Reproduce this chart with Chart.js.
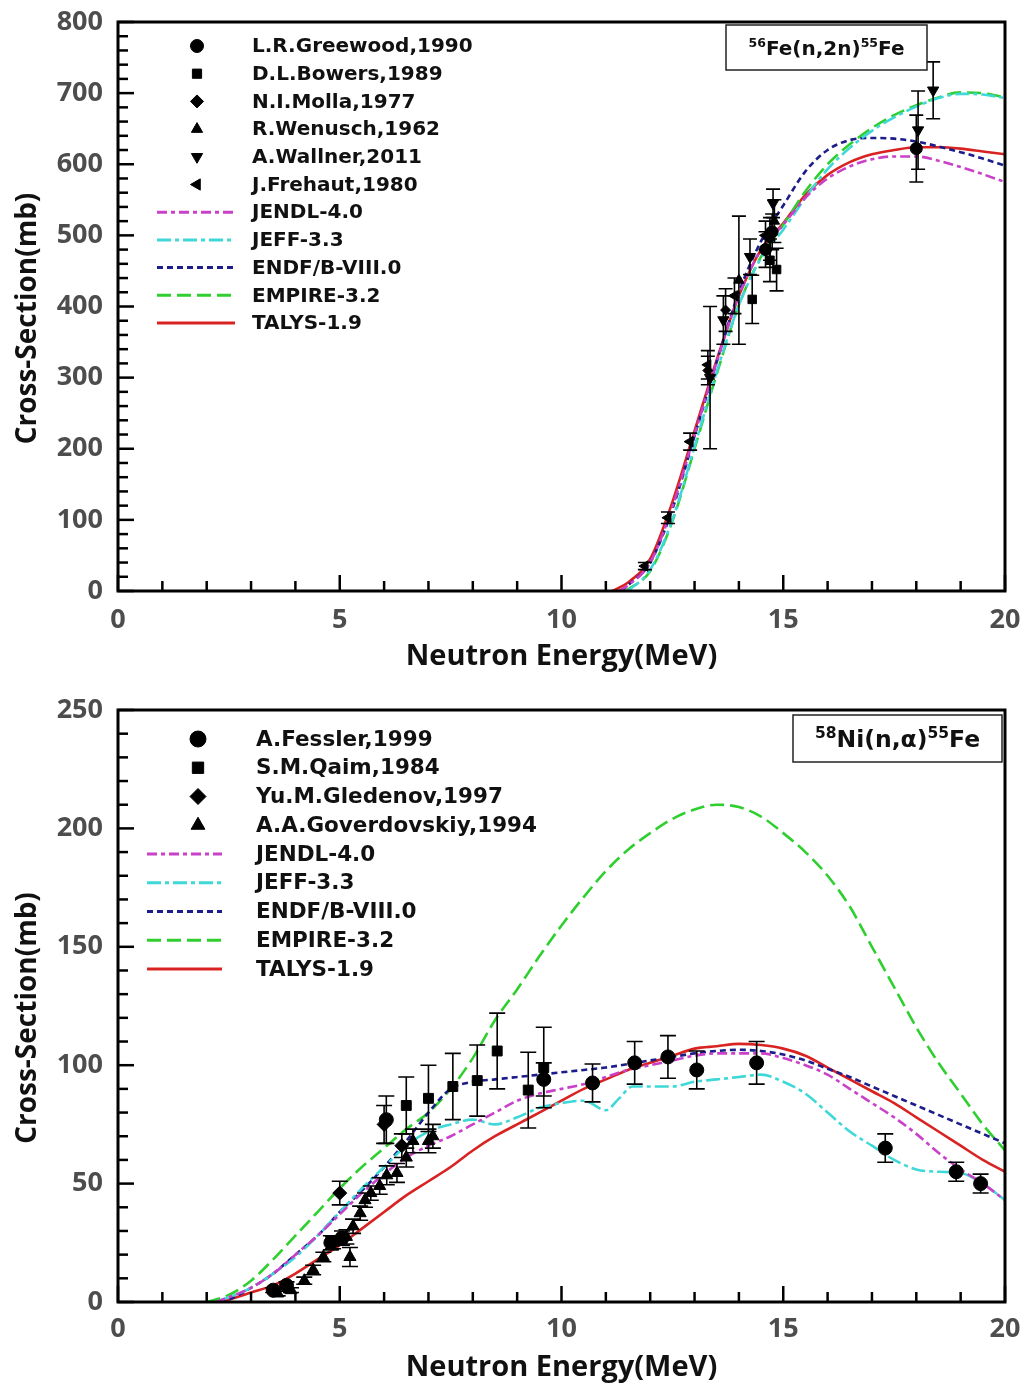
<!DOCTYPE html>
<html>
<head>
<meta charset="utf-8">
<script src="https://cdn.jsdelivr.net/npm/chart.js@4/dist/chart.umd.min.js"></script>
<style>
  body { margin: 0; background: #fff; }
  #wrap { position: relative; width: 1030px; height: 1387px; }
  canvas { position: absolute; left: 0; }
</style>
</head>
<body>
<div id="wrap">
  <canvas id="feChart" width="1030" height="680" style="top:0"></canvas>
  <canvas id="niChart" width="1030" height="707" style="top:680px"></canvas>
</div>
<script>
// ---------- 56Fe(n,2n)55Fe ----------
// experimental points: [energy MeV, cross-section mb, error mb]
const feGreenwood = [[14.6, 480, 25], [14.75, 505, 25], [18.0, 622, 47]];
const feBowers = [[14.3, 410, 34], [14.7, 465, 30], [14.85, 452, 30]];
const feMolla = [[13.3, 310, 20], [13.7, 395, 30], [14.7, 495, 30]];
const feWenusch = [[14.0, 437, 90], [14.8, 520, 30]];
const feWallner = [[13.35, 300, 100], [13.65, 381, 34], [14.25, 470, 25], [14.77, 545, 20], [18.04, 648, 55], [18.38, 704, 40]];
const feFrehaut = [[11.88, 35, 5], [12.4, 103, 8], [12.9, 210, 12], [13.3, 318, 20], [13.9, 415, 25], [14.6, 500, 20]];

// evaluated curves
const feTalysE = [11.15, 11.5, 12, 12.5, 13, 13.5, 14, 14.5, 15, 15.5, 16, 16.5, 17, 17.5, 18, 18.5, 19, 19.5, 20];
const feTalys = [0, 12, 45, 125, 225, 325, 415, 480, 517, 557, 585, 603, 614, 620, 624, 624, 622, 618, 614];
const feJendlE = [11.3, 11.5, 12, 12.5, 13, 13.5, 14, 14.5, 15, 15.5, 16, 16.5, 17, 17.5, 18, 18.5, 19, 19.5, 20];
const feJendl = [0, 8, 40, 118, 220, 322, 415, 480, 515, 553, 580, 597, 607, 611, 611, 605, 596, 586, 575];
const feJeffE = [11.5, 12, 12.5, 13, 13.5, 14, 14.5, 15, 15.5, 16, 16.5, 17, 17.5, 18, 18.5, 19, 19.5, 20];
const feJeff = [0, 30, 100, 203, 308, 402, 468, 508, 553, 593, 623, 647, 666, 681, 693, 699, 698, 693];
const feEndfE = [11.35, 11.5, 12, 12.5, 13, 13.5, 14, 14.5, 15, 15.5, 16, 16.5, 17, 17.5, 18, 18.5, 19, 19.5, 20];
const feEndf = [0, 8, 40, 115, 218, 322, 420, 492, 542, 590, 620, 634, 637, 636, 632, 625, 617, 608, 598];
const feEmpireE = [11.45, 12, 12.5, 13, 13.5, 14, 14.5, 15, 15.5, 16, 16.5, 17, 17.5, 18, 18.5, 19, 19.5, 20];
const feEmpire = [0, 28, 98, 200, 305, 402, 470, 515, 562, 600, 628, 651, 669, 683, 694, 701, 700, 694];

// ---------- 58Ni(n,a)55Fe ----------
const niFessler = [[3.5, 5, 1], [3.8, 7, 1.5], [4.8, 25, 3], [5.05, 27, 3], [6.05, 77, 10], [9.6, 94, 7], [10.7, 92.5, 8], [11.65, 101, 9], [12.4, 103.5, 9], [13.05, 98, 8], [14.4, 101, 9], [17.3, 65, 6], [18.9, 55, 4], [19.45, 50, 4]];
const niQaim = [[6.5, 83, 12], [7.0, 86, 14], [7.55, 91, 14], [8.1, 93.5, 15], [8.55, 106, 16], [9.25, 89.5, 16], [9.6, 99, 17]];
const niGledenov = [[5.0, 46, 5], [6.0, 75, 8], [6.4, 66, 5]];
const niGoverdovskiy = [[3.6, 3.6, 1], [3.9, 5, 1], [4.2, 9, 1.5], [4.4, 13.5, 2], [4.63, 19, 2], [4.85, 25, 2.5], [5.15, 27.5, 3], [5.23, 19, 4], [5.3, 32, 3], [5.46, 37.5, 3], [5.57, 43, 3], [5.7, 46, 3], [5.9, 49, 3.5], [6.06, 53.5, 4], [6.29, 54.5, 4], [6.5, 61, 4], [6.65, 68, 5], [7.0, 68, 5], [7.1, 70, 5]];

const niJendlE = [2.2, 2.5, 3, 3.5, 4, 4.5, 5, 5.5, 6, 6.5, 7, 7.5, 8, 8.5, 9, 9.5, 10, 10.5, 11, 11.5, 12, 12.5, 13, 13.5, 14, 14.5, 15, 15.5, 16, 16.5, 17, 17.5, 18, 18.5, 19, 19.5, 20];
const niJendl = [0, 2, 6, 12, 20, 28, 37, 46, 54, 61, 66, 70, 75, 80, 85, 88, 90, 92, 95, 98, 100, 102, 104, 105, 105, 105, 103, 100, 96, 90, 84, 78, 71, 63, 56, 50, 43];
const niJeffE = [2.2, 2.5, 3, 3.5, 4, 4.5, 5, 5.5, 6, 6.5, 7, 7.5, 8, 8.5, 9, 9.5, 10, 10.5, 11, 11.3, 11.6, 12, 12.5, 13, 13.5, 14, 14.5, 15, 15.5, 16, 16.5, 17, 17.5, 18, 18.5, 19, 19.5, 20];
const niJeff = [0, 2, 6, 12, 19, 28, 38, 48, 57, 66, 72, 75, 77, 75, 78, 82, 84, 85, 81, 86, 91, 91, 91, 93, 94, 95, 96, 93, 88, 80, 72, 66, 60, 56, 55, 54.5, 50, 43];
const niEndfE = [2.3, 2.5, 3, 3.5, 4, 4.5, 5, 5.5, 6, 6.5, 7, 7.5, 8, 8.5, 9, 9.5, 10, 10.5, 11, 11.5, 12, 12.5, 13, 13.5, 14, 14.5, 15, 15.5, 16, 16.5, 17, 17.5, 18, 18.5, 19, 19.5, 20];
const niEndf = [0, 1, 6, 12, 20, 28, 38, 47, 57, 68, 80, 90, 93, 94, 95, 96, 97, 98, 99, 100.5, 102, 103.5, 105, 106, 106.5, 106, 104.5, 102, 98.5, 95, 91, 87, 83, 79, 75, 71, 67];
const niEmpireE = [2, 2.5, 3, 3.5, 4, 4.5, 5, 5.5, 6, 6.5, 7, 7.5, 8, 8.5, 9, 9.5, 10, 10.5, 11, 11.5, 12, 12.5, 13, 13.5, 14, 14.5, 15, 15.5, 16, 16.5, 17, 17.5, 18, 18.5, 19, 19.5, 20];
const niEmpire = [0, 3, 9, 18, 28, 38, 48, 57, 65, 73, 80, 90, 103, 119, 132, 146, 159, 171, 182, 191, 198, 204, 208, 210, 209, 205, 198, 190, 180, 167, 150, 133, 116, 101, 88, 75, 64];
const niTalysE = [2.3, 2.5, 3, 3.5, 4, 4.5, 5, 5.5, 6, 6.5, 7, 7.5, 8, 8.5, 9, 9.5, 10, 10.5, 11, 11.5, 12, 12.5, 13, 13.5, 14, 14.5, 15, 15.5, 16, 16.5, 17, 17.5, 18, 18.5, 19, 19.5, 20];
const niTalys = [0, 1, 4, 7, 12, 18, 24, 31, 38, 45, 51, 57, 64, 70, 75, 80, 85, 90, 94, 98, 101, 104, 107, 108, 109, 108.5, 107, 104, 99, 94, 89, 84, 78, 72, 66, 60, 55];

const FONT = "'Open Sans', 'DejaVu Sans', sans-serif";
const LFONT = "'DejaVu Sans', sans-serif";
const C_JENDL = '#c940c9', C_JEFF = '#3fd8d8', C_ENDF = '#1c1c8a', C_EMPIRE = '#2fcf2f', C_TALYS = '#d92222';

function curve(label, E, XS, color, dash) {
  return {
    label, data: E.map((e, i) => ({ x: e, y: XS[i] })),
    showLine: true, borderColor: color, borderWidth: 2.6, borderDash: dash,
    pointRadius: 0, cubicInterpolationMode: 'monotone', fill: false
  };
}

function expt(label, rows, style, rot, r) {
  return {
    label, data: rows.map(p => ({ x: p[0], y: p[1] })), errs: rows.map(p => p[2]),
    showLine: false, pointStyle: style, pointRotation: rot, pointRadius: r,
    pointBackgroundColor: '#000', pointBorderColor: '#000', pointBorderWidth: 1
  };
}

// error bars with caps
const errorBars = {
  id: 'errorBars',
  afterDatasetsDraw(chart, args, o) {
    const { ctx, scales: { x, y } } = chart;
    ctx.save();
    ctx.strokeStyle = '#000';
    ctx.lineWidth = 1.6;
    chart.data.datasets.forEach(ds => {
      if (!ds.errs) return;
      ds.data.forEach((p, j) => {
        const px = x.getPixelForValue(p.x);
        const lo = y.getPixelForValue(p.y - ds.errs[j]);
        const hi = y.getPixelForValue(p.y + ds.errs[j]);
        ctx.beginPath();
        ctx.moveTo(px, lo); ctx.lineTo(px, hi);
        ctx.moveTo(px - o.cap, lo); ctx.lineTo(px + o.cap, lo);
        ctx.moveTo(px - o.cap, hi); ctx.lineTo(px + o.cap, hi);
        ctx.stroke();
      });
    });
    ctx.restore();
  }
};

// box frame with inward major/minor ticks, plus the y title
const frameTicks = {
  id: 'frameTicks',
  afterDatasetsDraw(chart, args, o) {
    const { ctx, chartArea: a, scales: { x, y } } = chart;
    ctx.save();
    ctx.strokeStyle = '#000';
    ctx.setLineDash([]);
    ctx.lineWidth = 2.5;
    for (let v = x.min; v <= x.max + 1e-9; v += o.xMinor) {
      const px = x.getPixelForValue(v);
      const len = Math.abs(v % o.xMajor) < 1e-6 ? 16 : 10;
      ctx.beginPath(); ctx.moveTo(px, a.bottom); ctx.lineTo(px, a.bottom - len); ctx.stroke();
    }
    for (let v = y.min; v <= y.max + 1e-9; v += o.yMinor) {
      const py = y.getPixelForValue(v);
      const len = Math.abs(v % o.yMajor) < 1e-6 ? 16 : 10;
      ctx.beginPath(); ctx.moveTo(a.left, py); ctx.lineTo(a.left + len, py); ctx.stroke();
    }
    ctx.lineWidth = 3;
    ctx.strokeRect(a.left, a.top, a.right - a.left, a.bottom - a.top);

    // rotated y-axis title, a bit below the plot centre as in the original
    ctx.translate(28, (a.top + a.bottom) / 2 + o.yTitleShift);
    ctx.rotate(-Math.PI / 2);
    ctx.font = 'bold 28px ' + FONT;
    ctx.fillStyle = '#111';
    ctx.textAlign = 'center';
    ctx.textBaseline = 'middle';
    ctx.fillText('Cross-Section(mb)', 0, 0);
    ctx.restore();
  }
};

// legend drawn inside the plot
const insideLegend = {
  id: 'insideLegend',
  afterDraw(chart, args, o) {
    const ctx = chart.ctx;
    ctx.save();
    ctx.textBaseline = 'middle';
    ctx.font = 'bold ' + o.size + 'px ' + LFONT;
    chart.data.datasets.forEach((ds, i) => {
      const yy = o.y0 + i * o.dy;
      if (ds.showLine) {
        ctx.save();
        ctx.strokeStyle = ds.borderColor;
        ctx.lineWidth = 3;
        ctx.setLineDash(ds.borderDash || []);
        ctx.beginPath(); ctx.moveTo(o.lineX1, yy); ctx.lineTo(o.lineX2, yy); ctx.stroke();
        ctx.restore();
      } else {
        ctx.fillStyle = '#000';
        ctx.strokeStyle = '#000';
        ctx.lineWidth = 1;
        Chart.helpers.drawPoint(ctx, { pointStyle: ds.pointStyle, rotation: ds.pointRotation, radius: o.radius, borderWidth: 1 }, o.markX, yy);
      }
      ctx.fillStyle = '#111';
      ctx.fillText(ds.label, o.textX, yy + 1);
    });
    ctx.restore();
  }
};

// reaction label box with superscripts
const reactionBox = {
  id: 'reactionBox',
  afterDraw(chart, args, o) {
    const ctx = chart.ctx;
    ctx.save();
    ctx.fillStyle = '#fff';
    ctx.fillRect(o.x, o.y, o.w, o.h);
    ctx.strokeStyle = '#222';
    ctx.lineWidth = 1.5;
    ctx.strokeRect(o.x, o.y, o.w, o.h);
    ctx.textBaseline = 'alphabetic';
    const fontFor = p => 'bold ' + (p.sup ? o.supSize : o.size) + 'px ' + LFONT;
    let total = 0;
    o.parts.forEach(p => { ctx.font = fontFor(p); total += ctx.measureText(p.t).width; });
    let cx = o.x + o.w / 2 - total / 2;
    const base = o.y + o.h / 2 + o.size * 0.36;
    o.parts.forEach(p => {
      ctx.font = fontFor(p);
      ctx.fillStyle = '#111';
      ctx.fillText(p.t, cx, p.sup ? base - o.size * 0.38 : base);
      cx += ctx.measureText(p.t).width;
    });
    ctx.restore();
  }
};

function makeOptions(cfg) {
  return {
    responsive: false,
    animation: false,
    layout: { padding: { top: cfg.padTop, right: 25, left: 0, bottom: 0 } },
    scales: {
      x: {
        type: 'linear', min: 0, max: 20,
        grid: { display: false, drawTicks: false },
        border: { display: false },
        ticks: { stepSize: 5, padding: cfg.xTickPad, color: '#4d4d4d', font: { family: FONT, size: 27, weight: 'bold' } },
        title: { display: true, text: 'Neutron Energy(MeV)', color: '#111', padding: { top: 0, bottom: cfg.xTitlePad }, font: { family: FONT, size: 29, weight: 'bold' } },
        afterFit: s => { s.height = cfg.xHeight; s.paddingLeft = 0; s.paddingRight = 0; }
      },
      y: {
        type: 'linear', min: 0, max: cfg.yMax,
        grid: { display: false, drawTicks: false },
        border: { display: false },
        ticks: { stepSize: cfg.yMajor, padding: 15, color: '#4d4d4d', font: { family: FONT, size: 27, weight: 'bold' } },
        title: { display: false },
        afterFit: s => { s.width = 118; s.paddingTop = 0; s.paddingBottom = 0; }
      }
    },
    plugins: {
      legend: { display: false },
      tooltip: { enabled: false },
      errorBars: { cap: cfg.cap },
      frameTicks: { xMinor: 1, xMajor: 5, yMinor: cfg.yMinor, yMajor: cfg.yMajor, yTitleShift: 12 },
      insideLegend: cfg.legend,
      reactionBox: cfg.box
    }
  };
}

const plugins = [errorBars, frameTicks, insideLegend, reactionBox];

new Chart(document.getElementById('feChart'), {
  type: 'scatter',
  data: {
    datasets: [
      expt('L.R.Greewood,1990', feGreenwood, 'circle', 0, 6),
      expt('D.L.Bowers,1989', feBowers, 'rect', 0, 6),
      expt('N.I.Molla,1977', feMolla, 'rectRot', 0, 5),
      expt('R.Wenusch,1962', feWenusch, 'triangle', 0, 6),
      expt('A.Wallner,2011', feWallner, 'triangle', 180, 6.5),
      expt('J.Frehaut,1980', feFrehaut, 'triangle', 270, 6),
      curve('JENDL-4.0', feJendlE, feJendl, C_JENDL, [10, 4, 4, 4]),
      curve('JEFF-3.3', feJeffE, feJeff, C_JEFF, [14, 4, 4, 4]),
      curve('ENDF/B-VIII.0', feEndfE, feEndf, C_ENDF, [6, 4]),
      curve('EMPIRE-3.2', feEmpireE, feEmpire, C_EMPIRE, [14, 6]),
      curve('TALYS-1.9', feTalysE, feTalys, C_TALYS, [])
    ]
  },
  options: makeOptions({
    padTop: 22, yMax: 800, yMajor: 100, yMinor: 20, xHeight: 89, xTickPad: 13, xTitlePad: 6, cap: 7,
    legend: { y0: 46, dy: 27.7, markX: 197, lineX1: 157, lineX2: 235, textX: 252, size: 20, radius: 6.5 },
    box: { x: 726, y: 25, w: 201, h: 45, size: 20, supSize: 12.5,
      parts: [{ t: '56', sup: true }, { t: 'Fe(n,2n)' }, { t: '55', sup: true }, { t: 'Fe' }] }
  }),
  plugins
});

new Chart(document.getElementById('niChart'), {
  type: 'scatter',
  data: {
    datasets: [
      expt('A.Fessler,1999', niFessler, 'circle', 0, 7),
      expt('S.M.Qaim,1984', niQaim, 'rect', 0, 7),
      expt('Yu.M.Gledenov,1997', niGledenov, 'rectRot', 0, 7),
      expt('A.A.Goverdovskiy,1994', niGoverdovskiy, 'triangle', 0, 7),
      curve('JENDL-4.0', niJendlE, niJendl, C_JENDL, [10, 4, 4, 4]),
      curve('JEFF-3.3', niJeffE, niJeff, C_JEFF, [14, 4, 4, 4]),
      curve('ENDF/B-VIII.0', niEndfE, niEndf, C_ENDF, [6, 4]),
      curve('EMPIRE-3.2', niEmpireE, niEmpire, C_EMPIRE, [14, 6]),
      curve('TALYS-1.9', niTalysE, niTalys, C_TALYS, [])
    ]
  },
  options: makeOptions({
    padTop: 30, yMax: 250, yMajor: 50, yMinor: 10, xHeight: 85, xTickPad: 11, xTitlePad: 2, cap: 8,
    legend: { y0: 59, dy: 28.75, markX: 198, lineX1: 147, lineX2: 222, textX: 256, size: 21.5, radius: 8 },
    box: { x: 793, y: 35, w: 209, h: 47, size: 23.5, supSize: 15.5,
      parts: [{ t: '58', sup: true }, { t: 'Ni(n,\u03b1)' }, { t: '55', sup: true }, { t: 'Fe' }] }
  }),
  plugins
});
</script>
</body>
</html>
